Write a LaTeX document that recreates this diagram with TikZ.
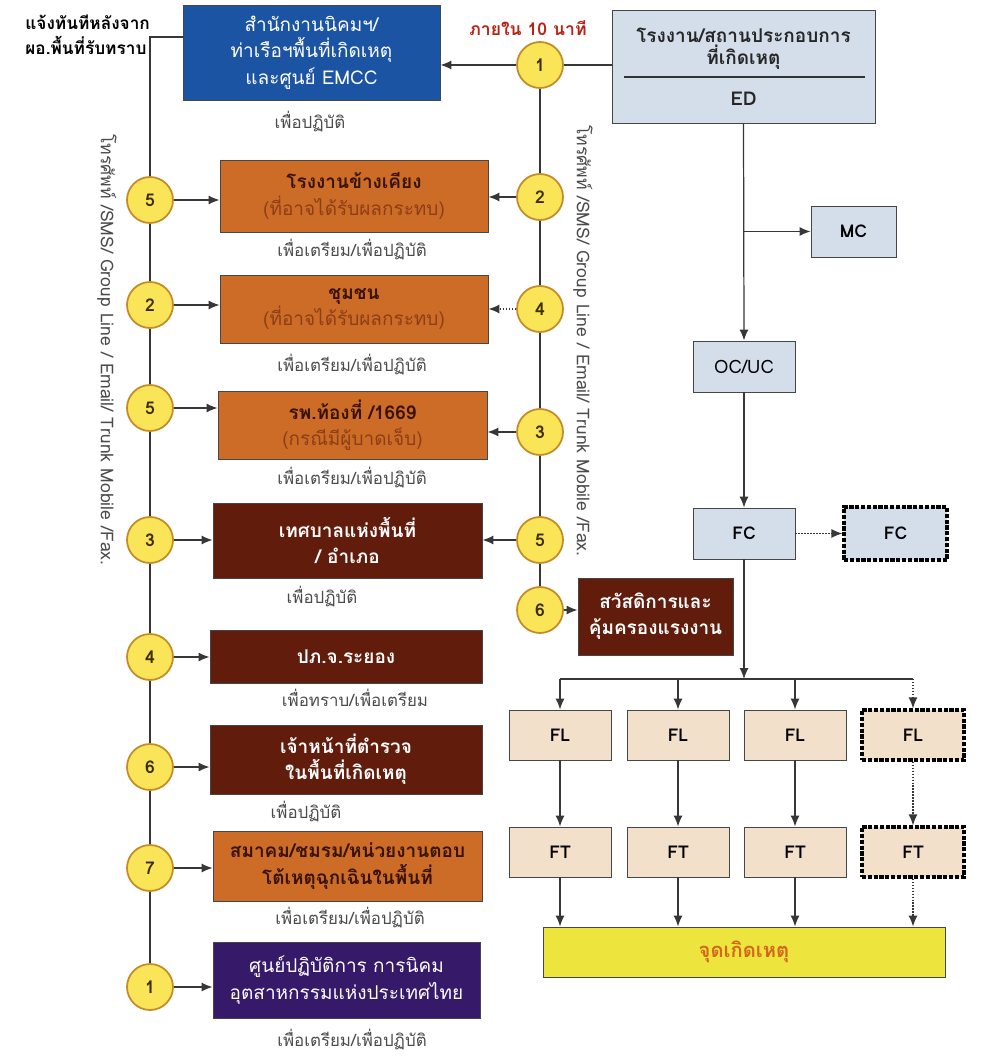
\documentclass[tikz,border=0pt]{standalone}
\usepackage{fontspec}
\setmainfont[Script=Thai]{Loma}
\usetikzlibrary{positioning,arrows.meta}
\definecolor{linegray}{RGB}{55,55,55}
\definecolor{boxedge}{RGB}{70,70,70}
\definecolor{estateblue}{RGB}{28,84,164}
\definecolor{unitblue}{RGB}{212,222,234}
\definecolor{teambeige}{RGB}{243,224,202}
\definecolor{orgorange}{RGB}{205,108,38}
\definecolor{orgbrown}{RGB}{98,28,12}
\definecolor{ieatpurple}{RGB}{55,25,105}
\definecolor{orgtitle}{RGB}{55,18,5}
\definecolor{subbrown}{RGB}{140,62,22}
\definecolor{numyellow}{RGB}{250,228,88}
\definecolor{ringbrown}{RGB}{196,140,40}
\definecolor{numtext}{RGB}{60,45,0}
\definecolor{notegray}{RGB}{75,75,75}
\definecolor{deadred}{RGB}{185,35,20}
\definecolor{siteyellow}{RGB}{238,228,62}
\definecolor{sitetext}{RGB}{212,102,30}
\newcommand{\boxfont}{\fontsize{10.8}{15}\selectfont}
\tikzset{
  wire/.style={draw=linegray, line width=0.7pt},
  flowarrow/.style={wire, -{Latex[length=2.2mm, width=1.8mm]}},
  dotarrow/.style={flowarrow, densely dotted},
  stepnum/.style={circle, draw=ringbrown, line width=1pt, fill=numyellow, minimum size=0.92cm, inner sep=0pt, font=\fontsize{10}{12}\selectfont\bfseries, text=numtext},
  orgbox/.style={draw=boxedge, line width=0.5pt, align=center, inner sep=2pt, font=\boxfont\bfseries},
  orangebox/.style={orgbox, fill=orgorange, text=orgtitle},
  brownbox/.style={orgbox, fill=orgbrown, text=white},
  unitbox/.style={draw=boxedge, line width=0.5pt, fill=unitblue, align=center, font=\fontsize{10}{12}\selectfont\bfseries},
  teambox/.style={draw=boxedge, line width=0.5pt, fill=teambeige, minimum width=2.04cm, minimum height=1.0cm, font=\fontsize{10}{12}\selectfont\bfseries},
  sparebox/.style={draw=black, line width=1.8pt, dash pattern=on 2.4pt off 0.9pt},
  purpose/.style={font=\fontsize{9.6}{11}\selectfont, text=notegray},
  medialabel/.style={font=\fontsize{10}{12}\selectfont, text=notegray, rotate=-90}
}

\begin{document}
\begin{tikzpicture}[>=Latex]
      \useasboundingbox (0,0) rectangle (19.64,-21.22);
      % header notes
      \node[anchor=west, align=left, inner sep=0pt, font=\fontsize{9.8}{14.2}\selectfont\bfseries] (alert) at (0.5,-0.69) {แจ้งทันทีหลังจาก\\ผอ.พื้นที่รับทราบ};
      \node[font=\fontsize{10}{12}\selectfont\bfseries, text=deadred] (tenmin) at (10.56,-0.56) {ภายใน 10 นาที};
      % left column: organisations
      \node[orgbox, font=\boxfont, fill=estateblue, text=white, minimum width=5.14cm, minimum height=1.9cm] (estate) at (6.23,-1.05) {สำนักงานนิคมฯ/\\ท่าเรือฯพื้นที่เกิดเหตุ\\และศูนย์ EMCC};
      \node[orangebox, minimum width=5.36cm, minimum height=1.44cm] (near) at (7.08,-3.92) {โรงงานข้างเคียง\\\textcolor{subbrown}{\mdseries(ที่อาจได้รับผลกระทบ)}};
      \node[orangebox, minimum width=5.36cm, minimum height=1.36cm] (community) at (7.08,-6.18) {ชุมชน\\\textcolor{subbrown}{\mdseries(ที่อาจได้รับผลกระทบ)}};
      \node[orangebox, minimum width=5.38cm, minimum height=1.36cm] (hospital) at (7.05,-8.5) {รพ.ท้องที่ /1669\\\textcolor{subbrown}{\mdseries(กรณีมีผู้บาดเจ็บ)}};
      \node[brownbox, minimum width=5.38cm, minimum height=1.5cm] (municipal) at (6.95,-10.81) {เทศบาลแห่งพื้นที่\\/ อำเภอ};
      \node[brownbox, minimum width=5.44cm, minimum height=1.06cm] (disaster) at (6.92,-13.13) {ปภ.จ.ระยอง};
      \node[brownbox, minimum width=5.44cm, minimum height=1.38cm] (police) at (6.92,-15.19) {เจ้าหน้าที่ตำรวจ\\ในพื้นที่เกิดเหตุ};
      \node[orangebox, minimum width=5.38cm, minimum height=1.4cm] (assoc) at (6.95,-17.32) {สมาคม/ชมรม/หน่วยงานตอบ\\โต้เหตุฉุกเฉินในพื้นที่};
      \node[orgbox, font=\boxfont, fill=ieatpurple, text=white, minimum width=5.34cm, minimum height=1.52cm] (ieat) at (6.93,-19.6) {ศูนย์ปฏิบัติการ การนิคม\\อุตสาหกรรมแห่งประเทศไทย};
      \node[brownbox, minimum width=3.1cm, minimum height=1.54cm] (labour) at (13.11,-12.33) {สวัสดิการและ\\คุ้มครองแรงงาน};
      % purpose notes
      \node[purpose] (pEstate) at (6.2,-2.44) {เพื่อปฏิบัติ};
      \node[purpose] (pNear) at (7.04,-5.0) {เพื่อเตรียม/เพื่อปฏิบัติ};
      \node[purpose] (pCommunity) at (7.04,-7.3) {เพื่อเตรียม/เพื่อปฏิบัติ};
      \node[purpose] (pHospital) at (7.04,-9.56) {เพื่อเตรียม/เพื่อปฏิบัติ};
      \node[purpose] (pMunicipal) at (6.44,-11.94) {เพื่อปฏิบัติ};
      \node[purpose] (pDisaster) at (7.1,-13.96) {เพื่อทราบ/เพื่อเตรียม};
      \node[purpose] (pPolice) at (6.12,-16.24) {เพื่อปฏิบัติ};
      \node[purpose] (pAssoc) at (7.0,-18.36) {เพื่อเตรียม/เพื่อปฏิบัติ};
      \node[purpose] (pIeat) at (7.04,-20.8) {เพื่อเตรียม/เพื่อปฏิบัติ};
      % media labels
      \node[medialabel] (mediaL) at (2.14,-7.0) {โทรศัพท์ /SMS/ Group Line / Email/ Trunk Mobile /Fax.};
      \node[medialabel] (mediaR) at (11.66,-6.82) {โทรศัพท์ /SMS/ Group Line / Email/ Trunk Mobile /Fax.};
      % step numbers
      \node[stepnum] (lNear) at (3.0,-4.0) {5};
      \node[stepnum] (lCommunity) at (3.0,-6.1) {2};
      \node[stepnum] (lHospital) at (3.0,-8.16) {5};
      \node[stepnum] (lMunicipal) at (3.0,-10.8) {3};
      \node[stepnum] (lDisaster) at (3.0,-13.14) {4};
      \node[stepnum] (lPolice) at (3.0,-15.34) {6};
      \node[stepnum] (lAssoc) at (3.0,-17.36) {7};
      \node[stepnum] (lIeat) at (3.0,-19.74) {1};
      \node[stepnum] (rEstate) at (10.8,-1.3) {1};
      \node[stepnum] (rNear) at (10.8,-3.94) {2};
      \node[stepnum] (rCommunity) at (10.8,-6.18) {4};
      \node[stepnum] (rHospital) at (10.8,-8.64) {3};
      \node[stepnum] (rMunicipal) at (10.8,-10.8) {5};
      \node[stepnum] (rLabour) at (10.8,-12.2) {6};
      % right column: command chain
      \node[unitbox, font=\fontsize{10.8}{13}\selectfont\bfseries, text=black!85, minimum width=5.26cm, minimum height=2.26cm] (ed) at (14.87,-1.33) {โรงงาน/สถานประกอบการ\\ที่เกิดเหตุ\\[10pt]ED};
      \draw[black!80, line width=0.6pt] (12.48,-1.54) -- (17.3,-1.54);
      \node[unitbox, minimum width=1.7cm, minimum height=1.02cm] (mc) at (17.07,-4.63) {MC};
      \node[unitbox, font=\fontsize{10.5}{12}\selectfont, minimum width=2.04cm, minimum height=1.02cm] (ocuc) at (14.88,-7.33) {OC/UC};
      \node[unitbox, minimum width=2.04cm, minimum height=1.02cm] (fc) at (14.88,-10.67) {FC};
      \node[unitbox, sparebox, minimum width=2.06cm, minimum height=1.06cm] (fcx) at (17.91,-10.67) {FC};
      \node[teambox] (fl1) at (11.2,-14.7) {FL};
      \node[teambox] (fl2) at (13.56,-14.7) {FL};
      \node[teambox] (fl3) at (15.9,-14.7) {FL};
      \node[teambox, sparebox] (fl4) at (18.26,-14.7) {FL};
      \node[teambox] (ft1) at (11.2,-17.04) {FT};
      \node[teambox] (ft2) at (13.56,-17.04) {FT};
      \node[teambox] (ft3) at (15.9,-17.04) {FT};
      \node[teambox, sparebox] (ft4) at (18.26,-17.04) {FT};
      \node[draw=boxedge, line width=0.5pt, fill=siteyellow, text=sitetext, font=\fontsize{11.5}{13}\selectfont\bfseries, minimum width=8.04cm, minimum height=1.0cm] (site) at (14.88,-19.04) {จุดเกิดเหตุ};
      \coordinate (ltop) at (3.0,-0.74);
      \coordinate (split) at (14.88,-13.58);
      % spines
      \draw[wire] (estate.west |- ltop) -- (ltop) -- (lNear) -- (lCommunity) -- (lHospital) -- (lMunicipal) -- (lDisaster) -- (lPolice) -- (lAssoc) -- (lIeat);
      \draw[wire] (rEstate) -- (rNear) -- (rCommunity) -- (rHospital) -- (rMunicipal) -- (rLabour);
      % notifications
      \draw[wire] (ed.west |- rEstate) -- (rEstate);
      \draw[flowarrow] (rEstate) -- (rEstate -| estate.east);
      \draw[flowarrow] (rNear) -- (rNear -| near.east);
      \draw[dotarrow] (rCommunity) -- (rCommunity -| community.east);
      \draw[flowarrow] (rHospital) -- (rHospital -| hospital.east);
      \draw[flowarrow] (rMunicipal) -- (rMunicipal -| municipal.east);
      \draw[flowarrow] (rLabour) -- (rLabour -| labour.west);
      \draw[flowarrow] (lNear) -- (lNear -| near.west);
      \draw[flowarrow] (lCommunity) -- (lCommunity -| community.west);
      \draw[flowarrow] (lHospital) -- (lHospital -| hospital.west);
      \draw[flowarrow] (lMunicipal) -- (lMunicipal -| municipal.west);
      \draw[flowarrow] (lDisaster) -- (lDisaster -| disaster.west);
      \draw[flowarrow] (lPolice) -- (lPolice -| police.west);
      \draw[flowarrow] (lAssoc) -- (lAssoc -| assoc.west);
      \draw[flowarrow] (lIeat) -- (lIeat -| ieat.west);
      % command chain
      \draw[flowarrow] (ed.south) -- (ocuc.north);
      \draw[flowarrow] (ed.south |- mc) -- (mc.west);
      \draw[flowarrow] (ocuc) -- (fc);
      \draw[dotarrow] (fc) -- (fcx);
      \draw[flowarrow] (fc) -- (split);
      \draw[wire] (fl1 |- split) -- (fl4 |- split);
      \draw[flowarrow] (fl1 |- split) -- (fl1);
      \draw[flowarrow] (fl2 |- split) -- (fl2);
      \draw[flowarrow] (fl3 |- split) -- (fl3);
      \draw[dotarrow] (fl4 |- split) -- (fl4);
      \draw[flowarrow] (fl1) -- (ft1);
      \draw[flowarrow] (fl2) -- (ft2);
      \draw[flowarrow] (fl3) -- (ft3);
      \draw[dotarrow] (fl4) -- (ft4);
      \draw[flowarrow] (ft1) -- (ft1 |- site.north);
      \draw[flowarrow] (ft2) -- (ft2 |- site.north);
      \draw[flowarrow] (ft3) -- (ft3 |- site.north);
      \draw[dotarrow] (ft4) -- (ft4 |- site.north);
    \end{tikzpicture}
\end{document}
